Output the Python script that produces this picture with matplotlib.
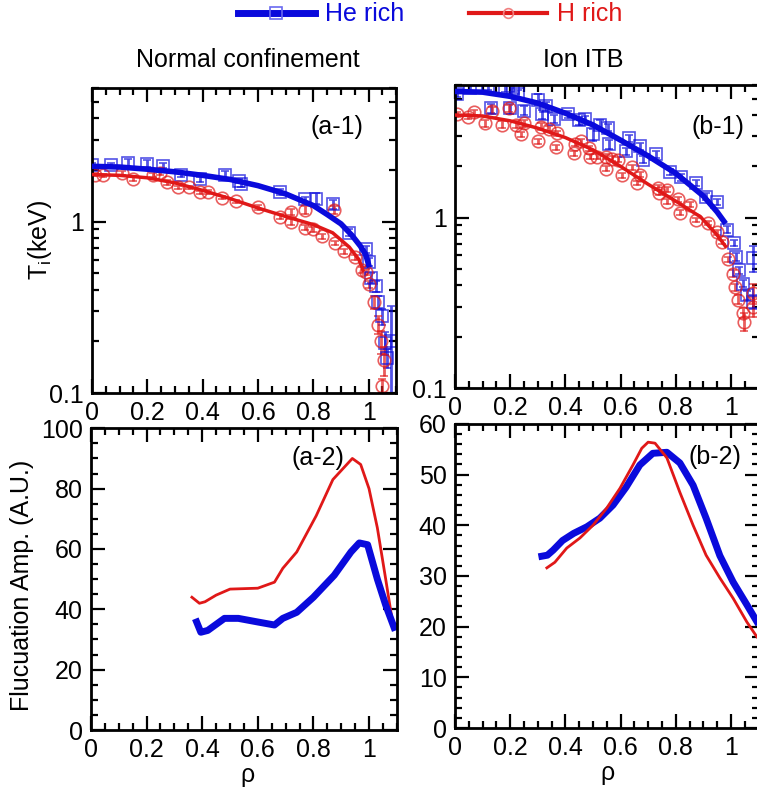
import matplotlib
matplotlib.use("Agg")
import matplotlib.pyplot as plt
from matplotlib.lines import Line2D
from matplotlib.ticker import MultipleLocator, LogLocator, NullFormatter, FixedLocator

plt.rcParams['font.family'] = ['Liberation Sans', 'DejaVu Sans']
plt.rcParams['mathtext.fontset'] = 'custom'
plt.rcParams['mathtext.rm'] = 'Liberation Sans'
plt.rcParams['mathtext.it'] = 'Liberation Sans:italic'

BLUE = '#0a0adc'
RED = '#e01818'

# ---- (a-1) normal confinement, Ti profiles ----
a1_he_rho = [0.0, 0.07, 0.13, 0.2, 0.255, 0.32, 0.39, 0.48, 0.53, 0.54, 0.68, 0.77, 0.81, 0.87,
             0.93, 0.99, 1.0, 1.01, 1.025, 1.035, 1.047, 1.06, 1.065, 1.08]
a1_he_ti = [2.15, 2.15, 2.2, 2.18, 2.12, 1.86, 1.76, 1.86, 1.72, 1.65, 1.48, 1.35, 1.36, 1.26,
            0.86, 0.69, 0.58, 0.47, 0.42, 0.34, 0.28, 0.196, 0.16, 0.2]
a1_he_err = [0.06, 0.05, 0.12, 0.1, 0.08, 0.05, 0.05, 0.1, 0.05, 0.05, 0.06, 0.05, 0.1, 0.08,
             0.04, 0.03, 0.03, 0.03, 0.03, 0.03, 0.03, 0.03, 0.02, 0.12]
a1_h_rho = [0.01, 0.04, 0.11, 0.15, 0.22, 0.245, 0.27, 0.31, 0.35, 0.39, 0.42, 0.47, 0.52, 0.6,
            0.68, 0.72, 0.72, 0.77, 0.77, 0.8, 0.83, 0.875, 0.88, 0.91, 0.95, 0.975, 0.99, 1.0,
            1.02, 1.035, 1.045, 1.055, 1.05]
a1_h_ti = [1.88, 1.86, 1.93, 1.78, 1.86, 1.93, 1.69, 1.58, 1.58, 1.48, 1.48, 1.38, 1.31, 1.21,
           1.07, 1.14, 1.0, 1.17, 0.92, 0.9, 0.82, 1.17, 0.75, 0.67, 0.62, 0.52, 0.51, 0.43,
           0.34, 0.25, 0.2, 0.155, 0.11]
a1_h_err = [0.04, 0.04, 0.05, 0.06, 0.05, 0.05, 0.05, 0.04, 0.04, 0.03, 0.04, 0.03, 0.03, 0.04,
            0.04, 0.05, 0.04, 0.06, 0.03, 0.03, 0.03, 0.06, 0.02, 0.02, 0.02, 0.02, 0.02, 0.02,
            0.03, 0.03, 0.03, 0.03, 0.01]
a1_he_fit_rho = [0, 0.1, 0.2, 0.3, 0.4, 0.5, 0.6, 0.7, 0.8, 0.85, 0.9, 0.94, 0.97, 0.99, 1.0]
a1_he_fit_ti = [2.1, 2.08, 2.02, 1.95, 1.86, 1.76, 1.62, 1.45, 1.24, 1.1, 0.97, 0.83, 0.72, 0.64, 0.56]
a1_h_fit_rho = [0, 0.1, 0.2, 0.3, 0.4, 0.5, 0.6, 0.7, 0.8, 0.87, 0.93, 0.965, 0.98]
a1_h_fit_ti = [1.88, 1.86, 1.8, 1.68, 1.52, 1.36, 1.2, 1.07, 0.96, 0.86, 0.71, 0.6, 0.52]

# ---- (b-1) ion ITB, Ti profiles ----
b1_he_rho = [0.007, 0.054, 0.12, 0.13, 0.18, 0.2, 0.21, 0.23, 0.25, 0.3, 0.315, 0.33, 0.36, 0.41,
             0.45, 0.47, 0.5, 0.525, 0.555, 0.56, 0.62, 0.63, 0.67, 0.68, 0.73, 0.78, 0.82,
             0.875, 0.91, 0.95, 0.985, 1.01, 1.02, 1.03, 1.045, 1.058, 1.08, 1.08]
b1_he_ti = [5.3, 5.74, 5.9, 4.37, 5.74, 4.37, 5.8, 5.3, 4.25, 4.93, 4.03, 4.5, 3.8, 4.03,
            3.72, 3.77, 3.08, 3.52, 3.38, 2.69, 2.45, 2.92, 2.62, 2.19, 2.35, 1.86, 1.72,
            1.6, 1.33, 1.23, 0.85, 0.71, 0.59, 0.49, 0.41, 0.35, 0.58, 0.32]
b1_he_err = [0.2, 0.25, 0.3, 0.25, 0.3, 0.3, 0.35, 0.3, 0.25, 0.35, 0.25, 0.3, 0.2, 0.2,
             0.2, 0.2, 0.25, 0.2, 0.15, 0.15, 0.12, 0.15, 0.12, 0.1, 0.12, 0.08, 0.08,
             0.07, 0.06, 0.05, 0.04, 0.03, 0.03, 0.02, 0.02, 0.02, 0.1, 0.03]
b1_h_rho = [0.007, 0.047, 0.07, 0.11, 0.135, 0.17, 0.196, 0.22, 0.24, 0.25, 0.3, 0.31, 0.34,
            0.365, 0.37, 0.43, 0.435, 0.455, 0.485, 0.49, 0.515, 0.547, 0.547, 0.57, 0.59,
            0.605, 0.64, 0.66, 0.67, 0.735, 0.74, 0.77, 0.77, 0.81, 0.815, 0.85, 0.875, 0.917,
            0.95, 0.967, 0.99, 1.007, 1.014, 1.025, 1.043, 1.047, 1.08, 1.08]
b1_h_ti = [4.03, 3.92, 4.15, 3.57, 4.25, 3.52, 4.37, 3.52, 3.08, 3.57, 2.8, 3.42, 3.33,
           2.58, 3.12, 2.38, 2.72, 2.8, 2.55, 2.28, 2.28, 1.94, 2.28, 2.22, 2.19,
           1.77, 1.97, 1.6, 1.79, 1.5, 1.4, 1.46, 1.24, 1.28, 1.07, 1.19, 0.97, 0.93,
           0.82, 0.72, 0.57, 0.47, 0.39, 0.33, 0.276, 0.245, 0.36, 0.3]
b1_h_err = [0.12, 0.15, 0.15, 0.15, 0.2, 0.15, 0.2, 0.15, 0.12, 0.15, 0.1, 0.15, 0.12,
            0.1, 0.12, 0.08, 0.1, 0.1, 0.1, 0.08, 0.08, 0.07, 0.08, 0.08, 0.08,
            0.06, 0.06, 0.05, 0.06, 0.05, 0.05, 0.05, 0.04, 0.04, 0.04, 0.04, 0.03, 0.03,
            0.03, 0.02, 0.02, 0.02, 0.02, 0.02, 0.02, 0.03, 0.05, 0.04]
b1_he_fit_rho = [0, 0.1, 0.2, 0.3, 0.4, 0.5, 0.6, 0.7, 0.8, 0.9, 0.95, 0.975]
b1_he_fit_ti = [5.5, 5.45, 5.15, 4.7, 4.1, 3.5, 2.85, 2.3, 1.82, 1.34, 1.08, 0.95]
b1_h_fit_rho = [0, 0.1, 0.2, 0.3, 0.4, 0.5, 0.6, 0.7, 0.8, 0.89, 0.95, 0.98]
b1_h_fit_ti = [4.0, 3.95, 3.7, 3.35, 2.95, 2.5, 2.0, 1.57, 1.25, 1.01, 0.79, 0.68]

# ---- (a-2) fluctuation amplitude, normal confinement ----
a2_he_rho = [0.38, 0.395, 0.42, 0.48, 0.53, 0.6, 0.66, 0.69, 0.74, 0.8, 0.875, 0.935, 0.965,
             0.995, 1.03, 1.06, 1.09]
a2_he_amp = [35.8, 32.4, 33.0, 37.0, 37.0, 35.8, 34.8, 37.0, 39.0, 44.0, 51.3, 59.0, 62.0,
             61.4, 50.0, 41.4, 34.0]
a2_h_rho = [0.363, 0.39, 0.41, 0.45, 0.5, 0.6, 0.66, 0.69, 0.74, 0.81, 0.87, 0.91, 0.94, 0.97,
            1.0, 1.03, 1.06, 1.085]
a2_h_amp = [44.0, 42.0, 42.5, 44.7, 46.7, 47.0, 49.0, 53.6, 59.0, 71.0, 83.0, 87.0, 90.0, 88.0,
            80.0, 67.0, 50.0, 35.5]

# ---- (b-2) fluctuation amplitude, ion ITB ----
b2_he_rho = [0.315, 0.335, 0.356, 0.39, 0.43, 0.478, 0.525, 0.573, 0.62, 0.67, 0.717, 0.768,
             0.815, 0.863, 0.91, 0.96, 1.008, 1.058, 1.094]
b2_he_amp = [33.9, 34.1, 35.1, 37.0, 38.4, 39.7, 41.4, 44.0, 47.5, 51.9, 54.2, 54.4,
             52.3, 47.9, 41.4, 34.0, 28.8, 24.3, 21.0]
b2_h_rho = [0.333, 0.362, 0.405, 0.453, 0.5, 0.55, 0.598, 0.645, 0.677, 0.7, 0.725, 0.768,
            0.815, 0.863, 0.91, 0.96, 1.008, 1.058, 1.094]
b2_h_amp = [31.6, 32.7, 35.5, 37.5, 40.0, 43.4, 47.3, 51.9, 55.2, 56.4, 56.2, 53.3,
            46.5, 40.0, 34.1, 29.6, 25.6, 20.9, 18.0]

FS = 18

fig = plt.figure(figsize=(7.57, 7.94), dpi=100)
ax1 = fig.add_axes([0.1215, 0.505, 0.402, 0.384])
ax2 = fig.add_axes([0.601, 0.5113, 0.401, 0.3816])
ax3 = fig.add_axes([0.1202, 0.0806, 0.404, 0.380])
ax4 = fig.add_axes([0.601, 0.0831, 0.401, 0.383])


def style(ax):
    ax.set_xlim(0, 1.1)
    ax.xaxis.set_minor_locator(MultipleLocator(0.05))
    ax.set_xticks([0, 0.2, 0.4, 0.6, 0.8, 1.0])
    ax.set_xticklabels(['0', '0.2', '0.4', '0.6', '0.8', '1'])
    ax.tick_params(which='both', direction='in', top=True, right=True, labelsize=FS,
                   width=1.6, pad=6)
    ax.tick_params(which='major', length=10)
    ax.tick_params(which='minor', length=5)
    for s in ax.spines.values():
        s.set_linewidth(2.0)


def profile(ax, rho, ti, err, fit_rho, fit_ti, color, marker, ms, fit_lw):
    ax.errorbar(rho, ti, yerr=err, fmt=marker, ms=ms, mfc='none', mec=color, mew=1.2,
                ecolor=color, elinewidth=2.0, capsize=3, capthick=1.6, alpha=0.7, zorder=2)
    ax.plot(fit_rho, fit_ti, color=color, lw=fit_lw, zorder=3)


for ax in (ax1, ax2):
    style(ax)
    ax.set_yscale('log')
    ax.set_ylim(0.1, 6)
    ax.yaxis.set_major_locator(FixedLocator([0.1, 1]))
    ax.yaxis.set_major_formatter(plt.FuncFormatter(lambda v, p: '%g' % v))
    ax.yaxis.set_minor_locator(LogLocator(base=10, subs=range(2, 10)))
    ax.yaxis.set_minor_formatter(NullFormatter())

profile(ax1, a1_he_rho, a1_he_ti, a1_he_err, a1_he_fit_rho, a1_he_fit_ti, BLUE, 's', 9, 4.0)
profile(ax1, a1_h_rho, a1_h_ti, a1_h_err, a1_h_fit_rho, a1_h_fit_ti, RED, 'o', 9, 2.5)
profile(ax2, b1_he_rho, b1_he_ti, b1_he_err, b1_he_fit_rho, b1_he_fit_ti, BLUE, 's', 9, 4.0)
profile(ax2, b1_h_rho, b1_h_ti, b1_h_err, b1_h_fit_rho, b1_h_fit_ti, RED, 'o', 9, 2.5)

style(ax3)
ax3.set_ylim(0, 100)
ax3.yaxis.set_major_locator(MultipleLocator(20))
ax3.yaxis.set_minor_locator(MultipleLocator(5))
ax3.plot(a2_h_rho, a2_h_amp, color=RED, lw=2.0)
ax3.plot(a2_he_rho, a2_he_amp, color=BLUE, lw=5.0)

style(ax4)
ax4.set_ylim(0, 60)
ax4.yaxis.set_major_locator(MultipleLocator(10))
ax4.yaxis.set_minor_locator(MultipleLocator(2))
ax4.plot(b2_he_rho, b2_he_amp, color=BLUE, lw=5.0)
ax4.plot(b2_h_rho, b2_h_amp, color=RED, lw=2.0)

ax1.text(0.806, 0.872, '(a-1)', transform=ax1.transAxes, fontsize=FS, ha='center', va='center')
ax2.text(0.866, 0.861, '(b-1)', transform=ax2.transAxes, fontsize=FS, ha='center', va='center')
ax3.text(0.742, 0.90, '(a-2)', transform=ax3.transAxes, fontsize=FS, ha='center', va='center')
ax4.text(0.856, 0.891, '(b-2)', transform=ax4.transAxes, fontsize=FS, ha='center', va='center')

fig.text(0.327, 0.924, 'Normal confinement', fontsize=FS, ha='center', va='center')
fig.text(0.77, 0.924, 'Ion ITB', fontsize=FS, ha='center', va='center')
fig.text(0.053, 0.698, r'T$_\mathregular{i}$(keV)', fontsize=FS, rotation=90,
         ha='center', va='center')
fig.text(0.029, 0.263, 'Flucuation Amp. (A.U.)', fontsize=FS, rotation=90,
         ha='center', va='center')
fig.text(0.327, 0.024, 'ρ', fontsize=FS, ha='center', va='center')
fig.text(0.803, 0.027, 'ρ', fontsize=FS, ha='center', va='center')

handles = [Line2D([], [], color=BLUE, lw=5, marker='s', ms=8, mfc='none', mec='#6a6af0', mew=1.2),
           Line2D([], [], color=RED, lw=3, marker='o', ms=7, mfc='none', mec='#f08080', mew=1.2)]
fig.legend(handles, ['He rich', 'H rich'], loc='center', bbox_to_anchor=(0.568, 0.982),
           ncol=2, frameon=False, fontsize=FS, handlelength=3.1, columnspacing=2.6,
           handletextpad=0.4, labelcolor=[BLUE, RED], numpoints=1)

fig.savefig('out.png', dpi=100)
